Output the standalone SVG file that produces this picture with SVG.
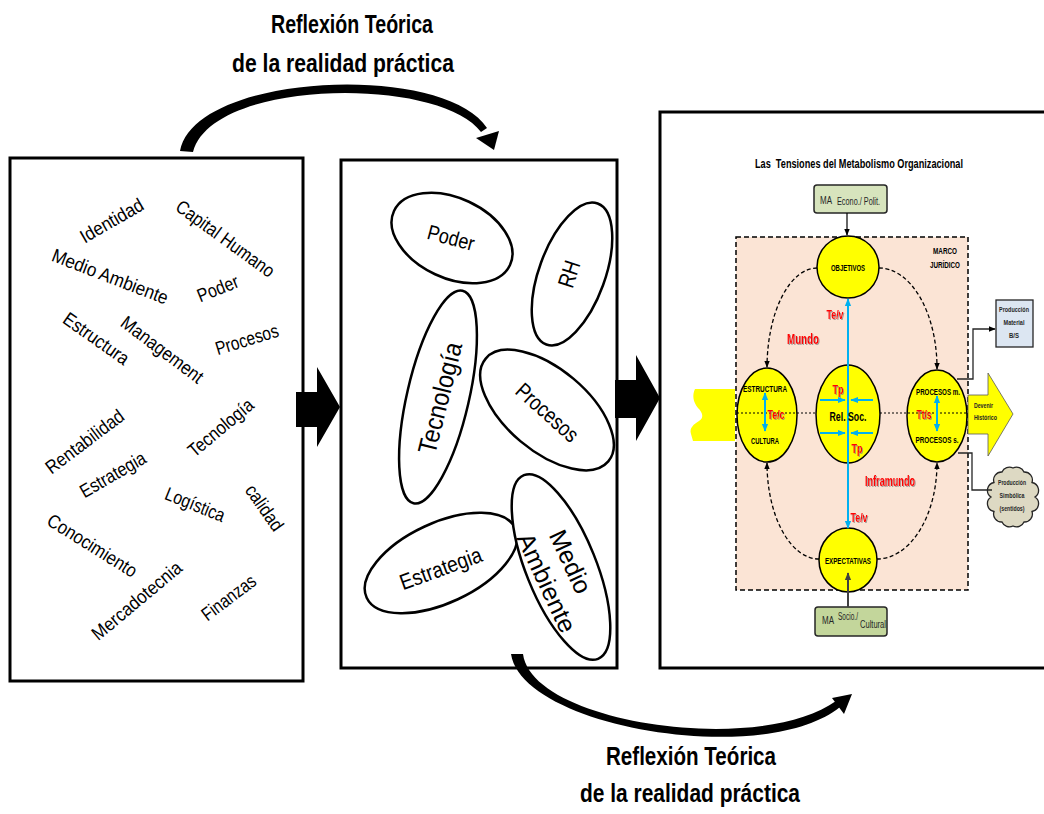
<svg xmlns="http://www.w3.org/2000/svg" width="1044" height="814" viewBox="0 0 1044 814">
<defs>
<style>
.panel{fill:#fff;stroke:#000;stroke-width:3}
.word{font-family:"Liberation Sans",Arial,sans-serif;font-size:19px;fill:#000;text-anchor:middle}
.oval{fill:#fff;stroke:#000;stroke-width:2.5}
.otext{font-family:"Liberation Sans",Arial,sans-serif;fill:#000;text-anchor:middle}
.head{font-family:"Liberation Sans",Arial,sans-serif;font-weight:bold;font-size:26px;fill:#000;text-anchor:middle}
.lbl{font-family:"Liberation Sans",Arial,sans-serif;font-weight:bold;text-anchor:middle;fill:#000}
.small{font-family:"Liberation Sans",Arial,sans-serif;fill:#262626}
.red{font-family:"Liberation Sans",Arial,sans-serif;font-weight:bold;text-anchor:middle;fill:#ff0000;filter:url(#shadow)}
.yel{fill:#ffff00;stroke:#000;stroke-width:1.5}
.blue{stroke:#00b0f0;stroke-width:2;fill:none}
.arc{fill:none;stroke:#000;stroke-width:1.3;stroke-dasharray:4 2.5}
.conn{fill:none;stroke:#262626;stroke-width:1.3}
</style>
<filter id="shadow" x="-20%" y="-20%" width="140%" height="140%">
<feDropShadow dx="1" dy="1" stdDeviation="0.6" flood-color="#7f7f7f" flood-opacity="0.7"/>
</filter>
<marker id="ah" viewBox="0 0 10 10" refX="9" refY="5" markerWidth="7" markerHeight="7" markerUnits="userSpaceOnUse" orient="auto-start-reverse">
<path d="M0,1 L10,5 L0,9 Z" fill="#000"/>
</marker>
<marker id="ahg" viewBox="0 0 10 10" refX="9" refY="5" markerWidth="8" markerHeight="8" markerUnits="userSpaceOnUse" orient="auto-start-reverse">
<path d="M0,1 L10,5 L0,9 Z" fill="#404040"/>
</marker>
<marker id="ahb" viewBox="0 0 10 10" refX="9" refY="5" markerWidth="8" markerHeight="8" markerUnits="userSpaceOnUse" orient="auto-start-reverse">
<path d="M0,1 L10,5 L0,9 Z" fill="#00b0f0"/>
</marker>
</defs>

<rect width="1044" height="814" fill="#fff"/>

<!-- headings -->
<text class="head" x="352" y="33" textLength="162" lengthAdjust="spacingAndGlyphs">Reflexión Teórica</text>
<text class="head" x="343" y="72" textLength="222" lengthAdjust="spacingAndGlyphs">de la realidad práctica</text>
<text class="head" x="691" y="765" textLength="170" lengthAdjust="spacingAndGlyphs">Reflexión Teórica</text>
<text class="head" x="690" y="802" textLength="220" lengthAdjust="spacingAndGlyphs">de la realidad práctica</text>

<!-- panel 1: loose concepts -->
<g id="panel-concepts">
<rect class="panel" x="10" y="158" width="293" height="523"/>
<text class="word" transform="translate(112,221) rotate(-30)" y="6" textLength="70" lengthAdjust="spacingAndGlyphs">Identidad</text>
<text class="word" transform="translate(225,239) rotate(36)" y="6" textLength="117" lengthAdjust="spacingAndGlyphs">Capital Humano</text>
<text class="word" transform="translate(110,277) rotate(21)" y="6" textLength="123" lengthAdjust="spacingAndGlyphs">Medio Ambiente</text>
<text class="word" transform="translate(218,289) rotate(-22)" y="6" textLength="43" lengthAdjust="spacingAndGlyphs">Poder</text>
<text class="word" transform="translate(96,339) rotate(35)" y="6" textLength="76" lengthAdjust="spacingAndGlyphs">Estructura</text>
<text class="word" transform="translate(162,350) rotate(37)" y="6" textLength="98" lengthAdjust="spacingAndGlyphs">Management</text>
<text class="word" transform="translate(247,340) rotate(-17)" y="6" textLength="65" lengthAdjust="spacingAndGlyphs">Procesos</text>
<text class="word" transform="translate(85,442) rotate(-37)" y="6" textLength="93" lengthAdjust="spacingAndGlyphs">Rentabilidad</text>
<text class="word" transform="translate(113,475) rotate(-30)" y="6" textLength="73" lengthAdjust="spacingAndGlyphs">Estrategia</text>
<text class="word" transform="translate(221,428) rotate(-40)" y="6" textLength="79" lengthAdjust="spacingAndGlyphs">Tecnología</text>
<text class="word" transform="translate(195,505) rotate(22)" y="6" textLength="63" lengthAdjust="spacingAndGlyphs">Logística</text>
<text class="word" transform="translate(264,508) rotate(55)" y="6" textLength="52" lengthAdjust="spacingAndGlyphs">calidad</text>
<text class="word" transform="translate(92,546) rotate(32)" y="6" textLength="102" lengthAdjust="spacingAndGlyphs">Conocimiento</text>
<text class="word" transform="translate(137,601) rotate(-40)" y="6" textLength="111" lengthAdjust="spacingAndGlyphs">Mercadotecnia</text>
<text class="word" transform="translate(229,598) rotate(-37)" y="6" textLength="63" lengthAdjust="spacingAndGlyphs">Finanzas</text>
</g>

<!-- panel 2: grouped concepts -->
<g id="panel-groups">
<rect class="panel" x="341" y="160" width="276" height="508"/>
<g id="oval-poder">
<ellipse class="oval" cx="0" cy="0" rx="64" ry="40" transform="translate(452,238) rotate(25)"/>
<text class="otext" font-size="21" transform="translate(451,238) rotate(15)" y="7" textLength="48" lengthAdjust="spacingAndGlyphs">Poder</text>
</g>
<g id="oval-rh">
<ellipse class="oval" cx="0" cy="0" rx="75" ry="33" transform="translate(572,274) rotate(-70)"/>
<text class="otext" font-size="23" transform="translate(569,274) rotate(-72)" y="8" textLength="27" lengthAdjust="spacingAndGlyphs">RH</text>
</g>
<g id="oval-tecnologia">
<ellipse class="oval" cx="0" cy="0" rx="109" ry="31" transform="translate(438,397) rotate(-77)"/>
<text class="otext" font-size="26" transform="translate(440,398) rotate(-76)" y="9" textLength="114" lengthAdjust="spacingAndGlyphs">Tecnología</text>
</g>
<g id="oval-procesos">
<ellipse class="oval" cx="0" cy="0" rx="80" ry="41" transform="translate(547,410) rotate(40)"/>
<text class="otext" font-size="22" transform="translate(547,413) rotate(42)" y="7" textLength="76" lengthAdjust="spacingAndGlyphs">Procesos</text>
</g>
<g id="oval-estrategia">
<ellipse class="oval" cx="0" cy="0" rx="82" ry="40" transform="translate(441,563) rotate(-25)"/>
<text class="otext" font-size="22" transform="translate(441,569) rotate(-20)" y="7" textLength="86" lengthAdjust="spacingAndGlyphs">Estrategia</text>
</g>
<g id="oval-medio-ambiente">
<ellipse class="oval" cx="0" cy="0" rx="99" ry="35" transform="translate(561,567) rotate(68)"/>
<text class="otext" font-size="25" transform="translate(570,562) rotate(65)" y="8" textLength="67" lengthAdjust="spacingAndGlyphs">Medio</text>
<text class="otext" font-size="25" transform="translate(546,583) rotate(65)" y="8" textLength="107" lengthAdjust="spacingAndGlyphs">Ambiente</text>
</g>
</g>

<!-- panel 3: organizational metabolism -->
<g id="panel-metabolism">
<rect class="panel" x="660" y="112" width="400" height="556"/>
<text class="lbl" x="859" y="168" font-size="12" style="white-space:pre" textLength="208" lengthAdjust="spacingAndGlyphs">Las  Tensiones del Metabolismo Organizacional</text>

<g id="marco-juridico">
<rect x="736" y="237" width="232" height="353" fill="#fbe4d5" stroke="#000" stroke-width="1.5" stroke-dasharray="5 3"/>
<text class="lbl" x="945" y="254" font-size="8.5" fill="#262626" textLength="24" lengthAdjust="spacingAndGlyphs">MARCO</text>
<text class="lbl" x="945" y="268" font-size="8.5" fill="#262626" textLength="30" lengthAdjust="spacingAndGlyphs">JURÍDICO</text>
</g>

<g id="ma-econo">
<rect x="814" y="185" width="73" height="28" rx="3" fill="#d7e4bd" stroke="#262626" stroke-width="1.5"/>
<text class="small" x="820" y="204" font-size="10" textLength="12" lengthAdjust="spacingAndGlyphs">MA</text>
<text class="small" x="837" y="205" font-size="10" textLength="43" lengthAdjust="spacingAndGlyphs">Econo./ Polit.</text>
</g>

<g id="ma-socio">
<rect x="815" y="607" width="72" height="29" rx="3" fill="#c3d69b" stroke="#262626" stroke-width="1.5"/>
<text class="small" x="822" y="624" font-size="10" textLength="12" lengthAdjust="spacingAndGlyphs">MA</text>
<text class="small" x="838" y="620" font-size="10" textLength="20" lengthAdjust="spacingAndGlyphs">Socio./</text>
<text class="small" x="860" y="628" font-size="10" textLength="26" lengthAdjust="spacingAndGlyphs">Cultural</text>
</g>

<g id="entrada">
<path d="M735,389 L695,389 C692,395 693,402 698,408 C703,413 704,418 699,421 C694,424 689,428 691,434 L693,441 L735,441 Z" fill="#ffff00"/>
</g>

<g id="devenir">
<polygon points="968,395 988,395 988,373 1013,414 988,456 988,434 968,434" fill="#ffff00" stroke="#595959" stroke-width="0.8"/>
<text class="small" x="974" y="408" font-size="8" font-weight="bold" textLength="19" lengthAdjust="spacingAndGlyphs">Devenir</text>
<text class="small" x="974" y="420" font-size="8" font-weight="bold" textLength="23" lengthAdjust="spacingAndGlyphs">Histórico</text>
</g>

<g id="objetivos">
<circle class="yel" cx="848" cy="267" r="31"/>
<text class="lbl" x="848" y="271" font-size="9" textLength="34" lengthAdjust="spacingAndGlyphs">OBJETIVOS</text>
</g>

<g id="expectativas">
<ellipse class="yel" cx="848" cy="560" rx="29" ry="32"/>
<text class="lbl" x="848" y="564" font-size="9" textLength="46" lengthAdjust="spacingAndGlyphs">EXPECTATIVAS</text>
</g>

<g id="estructura-cultura">
<ellipse class="yel" cx="767" cy="415" rx="30" ry="47"/>
<text class="lbl" x="765" y="392" font-size="9" textLength="44" lengthAdjust="spacingAndGlyphs">ESTRUCTURA</text>
<text class="lbl" x="765" y="444" font-size="9" textLength="28" lengthAdjust="spacingAndGlyphs">CULTURA</text>
</g>

<g id="rel-soc">
<ellipse class="yel" cx="848" cy="414" rx="32" ry="49"/>
</g>

<g id="procesos">
<ellipse class="yel" cx="937" cy="416" rx="30" ry="46"/>
<text class="lbl" x="938" y="395" font-size="9" textLength="44" lengthAdjust="spacingAndGlyphs">PROCESOS m.</text>
<text class="lbl" x="937" y="443" font-size="9" textLength="43" lengthAdjust="spacingAndGlyphs">PROCESOS s.</text>
</g>

<g id="produccion-material">
<rect x="996" y="300" width="37" height="47" fill="#dce6f2" stroke="#262626" stroke-width="1.3"/>
<text class="small" x="1014" y="312" font-size="7.5" font-weight="bold" text-anchor="middle" textLength="30" lengthAdjust="spacingAndGlyphs">Producción</text>
<text class="small" x="1014" y="325" font-size="7.5" font-weight="bold" text-anchor="middle" textLength="21" lengthAdjust="spacingAndGlyphs">Material</text>
<text class="small" x="1014" y="338" font-size="7.5" font-weight="bold" text-anchor="middle" textLength="10" lengthAdjust="spacingAndGlyphs">B/S</text>
</g>

<g id="produccion-simbolica">
<path d="M1013,468 A8,8 0 0 1 1024,472 A8,8 0 0 1 1032,482.5 A8,8 0 0 1 1035,497 A8,8 0 0 1 1032,511.5 A8,8 0 0 1 1024,522 A8,8 0 0 1 1013,526 A8,8 0 0 1 1002,522 A8,8 0 0 1 994,511.5 A8,8 0 0 1 991,497 A8,8 0 0 1 994,482.5 A8,8 0 0 1 1002,472 A8,8 0 0 1 1013,468 Z" fill="#ddd9c3" stroke="#262626" stroke-width="1.3"/>
<text class="small" x="1012" y="485" font-size="7.5" font-weight="bold" text-anchor="middle" textLength="28" lengthAdjust="spacingAndGlyphs">Producción</text>
<text class="small" x="1012" y="498" font-size="7.5" font-weight="bold" text-anchor="middle" textLength="25" lengthAdjust="spacingAndGlyphs">Simbólica</text>
<text class="small" x="1012" y="511" font-size="7.5" font-weight="bold" text-anchor="middle" textLength="25" lengthAdjust="spacingAndGlyphs">(sentidos)</text>
</g>
</g>

<!-- connectors -->
<g id="connectors">
<!-- black block arrows between panels -->
<polygon points="296,392 317,392 317,367 340,407 317,447 317,427 296,427" fill="#000"/>
<polygon points="615,380 636,380 636,355 660,398 636,441 636,418 615,418" fill="#000"/>

<!-- curved reflection arrows -->
<path d="M180,151 C195,72 445,62 487,128 L481,132 C440,76 212,78 193,152 Z" fill="#000"/>
<polygon points="499,131 494,150 476,138" fill="#000"/>
<path d="M511,654 C522,728 765,768 840,707 L836,701 C760,756 532,724 523,654 Z" fill="#000"/>
<polygon points="852,694 844,714 832,698" fill="#000"/>

<!-- environment inputs -->
<line x1="847" y1="213" x2="847" y2="235" stroke="#000" stroke-width="1.2" marker-end="url(#ah)"/>

<!-- dashed cycle -->
<path class="arc" d="M817,268 A50,100 0 0 0 767,367" marker-end="url(#ah)"/>
<path class="arc" d="M879,268 A58,100 0 0 1 937,369" marker-end="url(#ah)"/>
<path class="arc" d="M819,559 A52,96 0 0 1 767,463" marker-end="url(#ah)"/>
<path class="arc" d="M877,559 A60,96 0 0 0 937,463" marker-end="url(#ah)"/>

<!-- dotted axis -->
<line x1="737" y1="413" x2="816" y2="413" stroke="#000" stroke-width="1" stroke-dasharray="2 2"/>
<line x1="880" y1="413" x2="968" y2="413" stroke="#000" stroke-width="1" stroke-dasharray="2 2"/>

<!-- tension arrows -->
<line class="blue" x1="848" y1="528" x2="848" y2="299" marker-start="url(#ahb)" marker-end="url(#ahb)"/>
<line class="blue" x1="765" y1="393" x2="765" y2="431" marker-start="url(#ahb)" marker-end="url(#ahb)"/>
<line class="blue" x1="937" y1="396" x2="937" y2="431" marker-start="url(#ahb)" marker-end="url(#ahb)"/>
<line class="blue" x1="820" y1="400" x2="845" y2="400" marker-end="url(#ahb)"/>
<line class="blue" x1="873" y1="400" x2="851" y2="400" marker-end="url(#ahb)"/>
<line class="blue" x1="820" y1="433" x2="845" y2="433" marker-end="url(#ahb)"/>
<line class="blue" x1="873" y1="433" x2="851" y2="433" marker-end="url(#ahb)"/>

<line x1="848" y1="607" x2="848" y2="573" stroke="#404040" stroke-width="2" marker-end="url(#ahg)"/>

<!-- outputs -->
<polyline class="conn" points="957,379 973,379 973,329 995,329" marker-end="url(#ah)"/>
<polyline class="conn" points="958,453 972,453 972,490 992,490"/>
</g>

<!-- labels drawn over the connectors -->
<g id="tension-labels">
<text class="lbl" x="848" y="421" font-size="13" textLength="37" lengthAdjust="spacingAndGlyphs">Rel. Soc.</text>
<text class="red" x="838" y="394" font-size="13" textLength="11" lengthAdjust="spacingAndGlyphs">Tp</text>
<text class="red" x="857" y="453" font-size="13" textLength="11" lengthAdjust="spacingAndGlyphs">Tp</text>
<text class="red" x="776" y="419" font-size="12" textLength="17" lengthAdjust="spacingAndGlyphs">Te/c</text>
<text class="red" x="924" y="419" font-size="12" textLength="15" lengthAdjust="spacingAndGlyphs">Tt/s</text>
<text class="red" x="835" y="319" font-size="12" textLength="17" lengthAdjust="spacingAndGlyphs">Te/v</text>
<text class="red" x="859" y="522" font-size="12" textLength="17" lengthAdjust="spacingAndGlyphs">Te/v</text>
<text class="red" x="803" y="344" font-size="14" textLength="32" lengthAdjust="spacingAndGlyphs">Mundo</text>
<text class="red" x="890" y="486" font-size="14" textLength="50" lengthAdjust="spacingAndGlyphs">Inframundo</text>
</g>
</svg>
